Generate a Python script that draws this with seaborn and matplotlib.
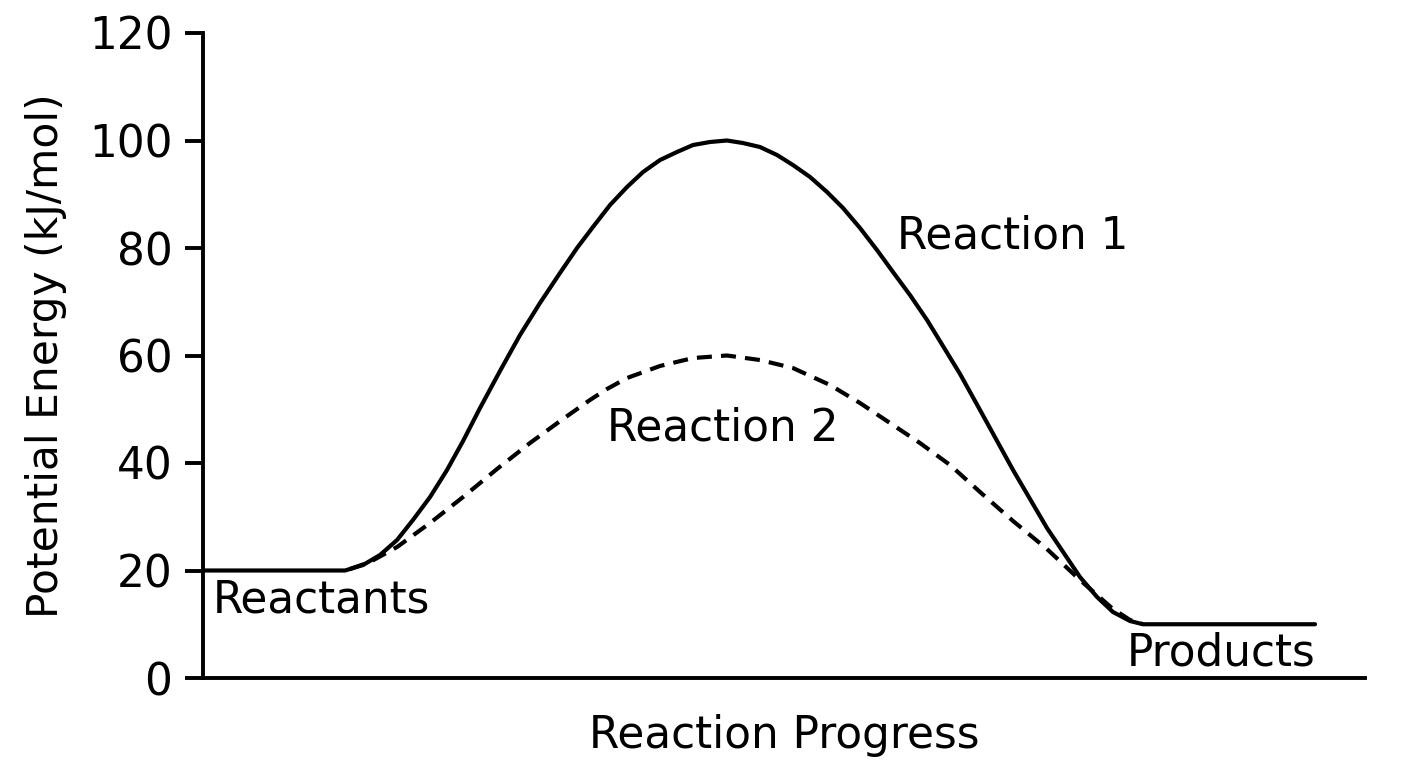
import numpy as np
import pandas as pd
import seaborn as sns
import matplotlib.pyplot as plt

# === values ===
# reaction 1 (solid curve)
x_r1 = [0, 10.93, 12.22, 12.65, 13.77, 15.23, 16.70, 18.07, 19.54, 21.00, 22.38, 23.84,
        25.56, 27.28, 29.00, 30.72, 32.19, 33.56, 35.03, 36.49, 37.87, 39.33, 40.79,
        42.17, 43.63, 45.09, 46.47, 47.93, 49.40, 50.77, 52.24, 53.70, 55.08, 56.54,
        58.00, 59.38, 60.84, 62.31, 63.68, 65.15, 66.87, 69.71, 72.63, 75.47, 76.94,
        78.31, 79.78, 80.90, 95.70]
y_r1 = [20, 20, 20, 20.28, 21.02, 22.88, 25.67, 29.40, 33.67, 38.70, 44.09, 50.23,
        57.12, 63.81, 69.77, 75.35, 80.00, 83.91, 88.00, 91.35, 94.14, 96.37, 97.86,
        99.16, 99.72, 100, 99.53, 98.79, 97.30, 95.44, 93.21, 90.42, 87.44, 83.72,
        79.63, 75.53, 71.26, 66.60, 61.77, 56.56, 49.86, 38.70, 27.91, 18.79, 15.07,
        12.28, 10.60, 10, 10]

# reaction 2 (dashed curve)
x_r2 = [12.65, 14.37, 16.70, 19.54, 22.38, 25.30, 28.14, 30.98, 33.30, 34.77, 36.49,
        39.33, 42.17, 45.09, 47.93, 50.77, 53.96, 56.54, 59.12, 61.70, 64.29, 66.87,
        69.71, 72.63, 75.47, 78.31, 79.78, 80.90]
y_r2 = [20.28, 21.58, 24.37, 28.84, 33.67, 38.88, 43.72, 48.19, 51.72, 53.77, 55.81,
        58.05, 59.53, 60, 59.16, 57.67, 54.51, 51.16, 47.44, 43.72, 39.63, 34.60,
        29.21, 24.00, 18.23, 12.84, 10.79, 10]

yticks = [0, 20, 40, 60, 80, 100, 120]

r1 = pd.DataFrame({"progress": x_r1, "energy": y_r1})
r2 = pd.DataFrame({"progress": x_r2, "energy": y_r2})

sns.set_style("ticks")
plt.rcParams['font.family'] = ['DejaVu Sans']
plt.rcParams['text.color'] = 'black'
plt.rcParams['axes.labelcolor'] = 'black'
plt.rcParams['ytick.color'] = 'black'

fig = plt.figure(figsize=(14.08, 7.68), dpi=100)
ax = fig.add_axes([203/1408, 1 - 678/768, (1365 - 203)/1408, (678 - 33)/768])

sns.lineplot(data=r1, x="progress", y="energy", color="black", linewidth=3.0,
             sort=False, ax=ax)
sns.lineplot(data=r2, x="progress", y="energy", color="black", linewidth=3.0,
             sort=False, ax=ax)
ax.lines[-1].set_dashes([3.6, 2.2])
for ln in ax.lines:
    ln.set_solid_joinstyle("round")

ax.set_xlim(0, 100)
ax.set_ylim(0, 120)
ax.set_xticks([])
ax.set_yticks(yticks)
ax.tick_params(axis="y", length=13, width=2.8, labelsize=31.5, pad=9)
ax.set_xlabel("Reaction Progress", fontsize=31.5, labelpad=26)
ax.set_ylabel("Potential Energy (kJ/mol)", fontsize=30.5, labelpad=16)
for s in ["top", "right"]:
    ax.spines[s].set_visible(False)
for s in ["left", "bottom"]:
    ax.spines[s].set_linewidth(2.8)
    ax.spines[s].set_color("black")

ax.text(0.86, 14.5, "Reactants", fontsize=31.5, ha="left", va="center")
ax.text(95.7, 4.6, "Products", fontsize=31.5, ha="right", va="center")
ax.text(59.7, 82.3, "Reaction 1", fontsize=31.5, ha="left", va="center")
ax.text(34.8, 46.5, "Reaction 2", fontsize=31.5, ha="left", va="center")

fig.savefig("out.png", dpi=100, facecolor="white")
